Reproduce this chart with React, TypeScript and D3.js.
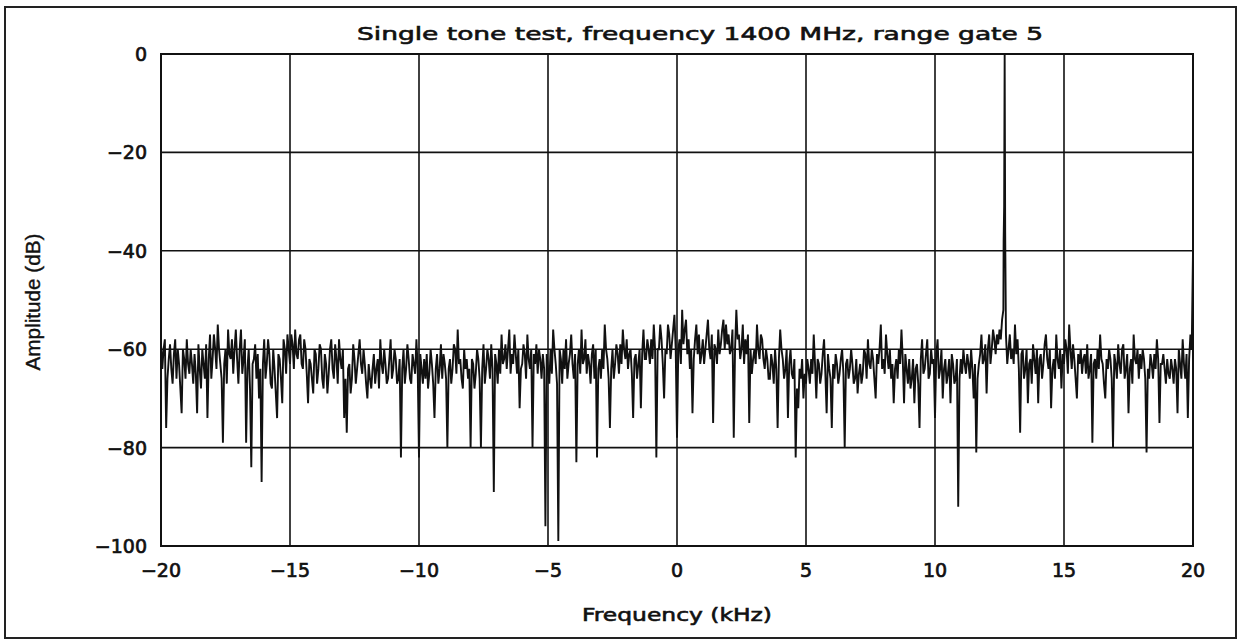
import React from "react";
import * as d3 from "d3";

// Amplitude (dB) sampled every 0.1 kHz from -20 to 20 kHz
const startFreq = -20;
const stepFreq = 0.1;
const amplitude: number[] = [
  -59,-60,-76,-62,-64,-61,-66,-63,-73,-62,
  -58,-65,-63,-61,-73,-64,-60,-66,-74,-57,
  -62,-60,-55,-63,-79,-60,-56,-62,-65,-56,
  -67,-56,-62,-79,-60,-84,-62,-66,-70,-87,
  -58,-63,-61,-68,-64,-74,-62,-71,-60,-57,
  -63,-59,-56,-62,-57,-64,-60,-71,-63,-69,
  -61,-64,-60,-68,-63,-65,-58,-66,-62,-58,
  -64,-74,-77,-63,-66,-62,-64,-58,-65,-63,
  -70,-66,-64,-67,-62,-58,-65,-63,-66,-58,
  -64,-62,-66,-82,-60,-64,-62,-67,-63,-58,
  -82,-64,-62,-61,-65,-63,-74,-61,-64,-66,
  -63,-80,-62,-64,-60,-56,-62,-68,-64,-66,
  -80,-63,-65,-62,-80,-59,-64,-62,-59,-89,
  -63,-60,-57,-62,-64,-56,-61,-57,-65,-72,
  -63,-61,-57,-64,-80,-63,-65,-62,-61,-96,
  -64,-60,-56,-63,-99,-62,-60,-58,-63,-57,
  -66,-83,-60,-56,-62,-65,-63,-61,-66,-82,
  -62,-60,-55,-62,-76,-60,-63,-61,-59,-56,
  -62,-64,-60,-74,-61,-63,-72,-56,-62,-60,
  -58,-55,-82,-60,-58,-70,-61,-57,-59,-53,
  -78,-58,-52,-56,-61,-64,-73,-58,-61,-63,
  -58,-60,-54,-62,-75,-60,-56,-59,-54,-55,
  -57,-60,-78,-52,-57,-60,-63,-61,-75,-65,
  -60,-55,-62,-58,-64,-62,-66,-63,-60,-76,
  -56,-62,-64,-74,-60,-66,-82,-72,-66,-70,
  -67,-64,-62,-57,-70,-63,-65,-58,-73,-64,
  -76,-66,-63,-65,-60,-80,-62,-64,-63,-66,
  -69,-63,-65,-61,-58,-64,-62,-70,-63,-55,
  -62,-57,-64,-66,-71,-62,-60,-56,-71,-64,
  -62,-66,-71,-63,-76,-58,-64,-58,-65,-63,
  -74,-58,-64,-70,-62,-65,-71,-63,-66,-92,
  -62,-60,-65,-63,-60,-70,-81,-63,-57,-62,
  -69,-57,-60,-58,-57,-56,-54,0,-63,-57,
  -60,-55,-58,-77,-60,-64,-71,-62,-59,-65,
  -71,-61,-63,-57,-64,-72,-62,-57,-64,-68,
  -63,-60,-55,-64,-62,-70,-63,-65,-61,-59,
  -64,-79,-62,-60,-57,-63,-70,-64,-62,-80,
  -63,-59,-65,-59,-64,-73,-62,-57,-63,-66,
  -64,-62,-81,-66,-63,-61,-58,-75,-63,-64,
  -62,-66,-64,-62,-73,-63,-58,-66,-74,-57,
  -40,
];

// Amplitude (dB) of the in-between samples at -19.95, -19.85, ... 19.95 kHz
const amplitudeMid: number[] = [
  -64,-58,-66,-59,-67,-58,-60,-68,-60,-66,
  -63,-60,-67,-65,-59,-68,-63,-59,-62,-66,
  -57,-64,-60,-66,-63,-67,-61,-58,-60,-62,
  -60,-65,-58,-64,-68,-63,-59,-61,-64,-63,
  -66,-58,-67,-60,-69,-61,-66,-58,-65,-60,
  -57,-64,-61,-58,-63,-58,-65,-62,-66,-60,
  -67,-59,-66,-61,-69,-60,-64,-59,-67,-62,
  -60,-66,-64,-69,-59,-67,-61,-63,-60,-67,
  -63,-68,-61,-64,-68,-63,-60,-67,-62,-66,
  -60,-67,-62,-64,-67,-59,-66,-61,-65,-64,
  -61,-67,-66,-68,-60,-67,-64,-67,-59,-61,
  -66,-64,-67,-59,-65,-63,-66,-60,-62,-64,
  -62,-68,-60,-66,-64,-67,-60,-66,-64,-61,
  -67,-65,-63,-59,-60,-65,-63,-61,-60,-64,
  -59,-66,-62,-60,-61,-59,-60,-66,-64,-61,
  -67,-65,-60,-67,-60,-67,-64,-66,-61,-63,
  -61,-63,-65,-63,-58,-61,-67,-59,-60,-64,
  -66,-64,-60,-66,-64,-66,-59,-65,-63,-60,
  -58,-61,-65,-62,-66,-60,-61,-62,-58,-63,
  -62,-60,-60,-55,-63,-60,-55,-62,-56,-60,
  -60,-63,-59,-54,-58,-60,-62,-55,-57,-61,
  -63,-57,-60,-57,-59,-63,-61,-56,-60,-59,
  -61,-56,-60,-58,-62,-55,-58,-57,-60,-62,
  -63,-60,-57,-62,-60,-66,-61,-67,-64,-62,
  -60,-66,-60,-63,-65,-62,-68,-64,-62,-65,
  -62,-67,-65,-63,-62,-67,-61,-65,-61,-66,
  -63,-61,-67,-62,-65,-63,-66,-60,-67,-62,
  -65,-67,-60,-66,-63,-60,-66,-61,-60,-64,
  -65,-61,-60,-63,-64,-66,-63,-62,-61,-67,
  -68,-62,-64,-67,-62,-65,-61,-66,-60,-62,
  -61,-66,-60,-64,-67,-62,-61,-67,-62,-66,
  -65,-63,-61,-66,-64,-63,-66,-61,-63,-59,
  -60,-63,-56,-61,-59,-58,-52,-57,-60,-62,
  -63,-61,-64,-61,-66,-60,-63,-67,-62,-60,
  -62,-66,-59,-62,-60,-64,-66,-62,-60,-61,
  -58,-65,-60,-59,-66,-61,-60,-62,-65,-66,
  -61,-63,-66,-64,-62,-67,-62,-60,-66,-61,
  -66,-63,-60,-66,-61,-64,-67,-62,-60,-61,
  -60,-66,-64,-61,-66,-64,-62,-63,-61,-67,
  -65,-62,-67,-64,-60,-66,-63,-61,-62,-60,
];

// Extra detail around the tone at 12.7 kHz: [frequency kHz, dB]
const toneSkirt: [number, number][] = [
  [12.66, -38],
  [12.68, -31],
  [12.72, -36],
  [12.74, -50],
];

const xTicks = [-20, -15, -10, -5, 0, 5, 10, 15, 20];
const yTicks = [0, -20, -40, -60, -80, -100];

const title = "Single tone test, frequency 1400 MHz, range gate 5";
const xLabel = "Frequency (kHz)";
const yLabel = "Amplitude (dB)";

export default function App() {
  const W = 1242;
  const H = 641;
  const left = 161, right = 1193, top = 54, bottom = 546;

  const x = d3.scaleLinear().domain([-20, 20]).range([left, right]);
  const y = d3.scaleLinear().domain([-100, 0]).range([bottom, top]);

  const main: [number, number][] = amplitude.map((v, i) => [
    +(startFreq + i * stepFreq).toFixed(3),
    v,
  ]);
  const mid: [number, number][] = amplitudeMid.map((v, i) => [
    +(startFreq + (i + 0.5) * stepFreq).toFixed(3),
    v,
  ]);
  const all = main
    .concat(mid)
    .concat(toneSkirt)
    .sort((a, b) => a[0] - b[0]);

  const line = d3
    .line<[number, number]>()
    .x((d) => x(d[0]))
    .y((d) => y(d[1]));

  const font = "'DejaVu Sans', Verdana, sans-serif";
  const fmt = (t: number) => (t < 0 ? "\u2212" + Math.abs(t) : String(t));
  const ink = "#111";

  return (
    <svg
      width={W}
      height={H}
      style={{ position: "absolute", left: 0, top: 0, background: "#fff" }}
    >
      <rect x={0} y={0} width={W} height={H} fill="#fff" />
      <rect
        x={5}
        y={7}
        width={1231}
        height={631}
        fill="none"
        stroke="#222"
        strokeWidth={2}
      />
      {xTicks.map((t) => (
        <line
          key={"gx" + t}
          x1={x(t)}
          x2={x(t)}
          y1={top}
          y2={bottom}
          stroke={ink}
          strokeWidth={1.6}
        />
      ))}
      {yTicks.map((t) => (
        <line
          key={"gy" + t}
          x1={left}
          x2={right}
          y1={y(t)}
          y2={y(t)}
          stroke={ink}
          strokeWidth={1.6}
        />
      ))}
      <rect
        x={left}
        y={top}
        width={right - left}
        height={bottom - top}
        fill="none"
        stroke={ink}
        strokeWidth={2}
      />
      <path
        d={line(all) || ""}
        fill="none"
        stroke={ink}
        strokeWidth={1.9}
        strokeLinejoin="miter"
      />
      {yTicks.map((t) => (
        <text
          key={"ty" + t}
          x={left - 14}
          y={y(t) + 7}
          textAnchor="end"
          fontFamily={font}
          fontSize={19}
          fill={ink}
          stroke={ink}
          strokeWidth={0.7}
        >
          {fmt(t)}
        </text>
      ))}
      {xTicks.map((t) => (
        <text
          key={"tx" + t}
          x={x(t)}
          y={577}
          textAnchor="middle"
          fontFamily={font}
          fontSize={19}
          fill={ink}
          stroke={ink}
          strokeWidth={0.7}
        >
          {fmt(t)}
        </text>
      ))}
      <text
        x={700}
        y={40}
        textAnchor="middle"
        fontFamily={font}
        fontSize={18}
        fill={ink}
        stroke={ink}
        strokeWidth={0.6}
        textLength={686}
        lengthAdjust="spacingAndGlyphs"
      >
        {title}
      </text>
      <text
        x={677}
        y={621}
        textAnchor="middle"
        fontFamily={font}
        fontSize={18}
        fill={ink}
        stroke={ink}
        strokeWidth={0.6}
        textLength={190}
        lengthAdjust="spacingAndGlyphs"
      >
        {xLabel}
      </text>
      <text
        transform="translate(40,302) rotate(-90)"
        textAnchor="middle"
        fontFamily="'Liberation Sans', Arial, sans-serif"
        fontSize={20}
        fill={ink}
        stroke={ink}
        strokeWidth={0.4}
        textLength={137}
        lengthAdjust="spacingAndGlyphs"
      >
        {yLabel}
      </text>
    </svg>
  );
}
